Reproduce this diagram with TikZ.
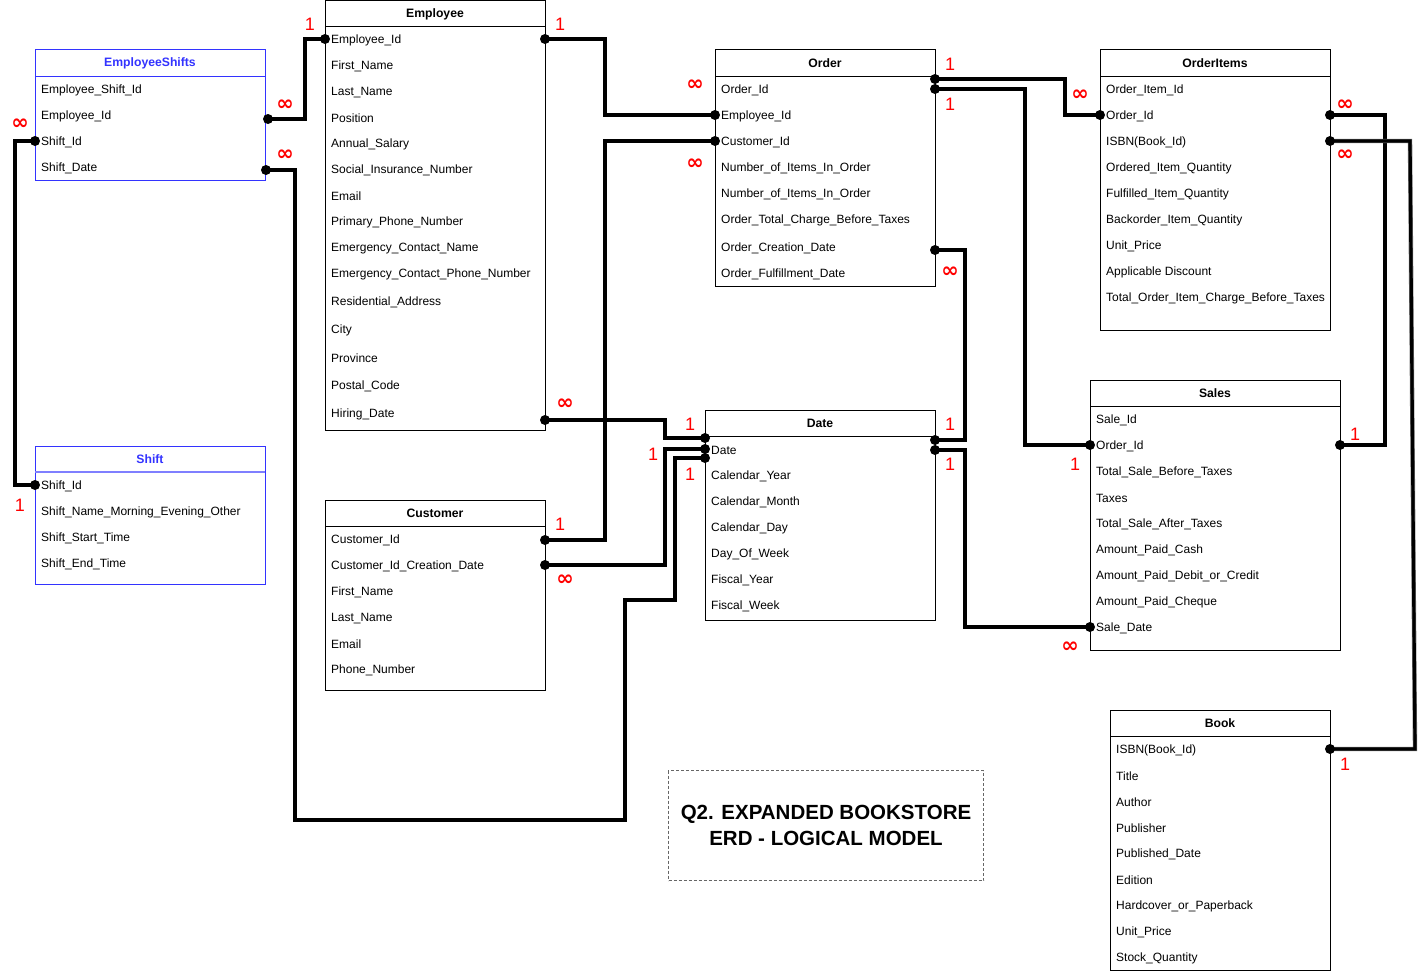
\documentclass[tikz,border=0pt]{standalone}
\usepackage{fontspec}
\setmainfont{Liberation Sans}
\newfontfamily\symfont{DejaVu Sans}
\definecolor{tblblue}{HTML}{3333FF}
\definecolor{tbllblue}{HTML}{7F7FFF}
\definecolor{cardred}{HTML}{FF0000}
\tikzset{
  tbl/.style={draw=black, line width=1pt, inner sep=0pt, outer sep=0pt, anchor=north west},
  btbl/.style={tbl, draw=tblblue},
  hdr/.style={font=\fontsize{12.2}{14}\selectfont\bfseries, inner sep=0pt},
  bhdr/.style={hdr, text=tblblue},
  rowtxt/.style={anchor=west, inner sep=0pt, yshift=-1.2pt, font=\fontsize{12}{14}\selectfont},
  conn/.style={line width=3.2pt, draw=black, line join=miter, preaction={draw=black!55, line width=4.4pt}},
  one/.style={text=cardred, inner sep=0pt, font=\fontsize{18}{19}\selectfont},
  many/.style={text=cardred, inner sep=0pt, font=\symfont\fontsize{21}{22}\selectfont\bfseries},
  titlebox/.style={draw=black!60, dash pattern=on 3pt off 2pt, line width=1pt, inner sep=0pt, anchor=north west},
}
\begin{document}
\begin{tikzpicture}[x=1pt,y=-1pt]
\useasboundingbox (0,0) rectangle (1426,974);
\fill[white] (0,0) rectangle (1426,974);

% ---------------- EmployeeShifts ----------------
\node[btbl, minimum width=230pt, minimum height=130pt] (es) at (35,50) {};
\draw[tblblue, line width=1pt] ([yshift=-26pt]es.north west) -- ([yshift=-26pt]es.north east);
\node[bhdr] (esT) at ([yshift=-13pt]es.north) {EmployeeShifts};
\foreach \yy/\t [count=\i] in {89/Employee\_Shift\_Id,115/Employee\_Id,141/Shift\_Id,167/Shift\_Date}
  \node[rowtxt] (es-\i) at (41,\yy) {\t};

% ---------------- Shift ----------------
\node[btbl, minimum width=230pt, minimum height=138pt] (sh) at (35,446) {};
\draw[tbllblue, line width=1.5pt] ([yshift=-26pt]sh.north west) -- ([yshift=-26pt]sh.north east);
\node[bhdr] (shT) at ([yshift=-13pt]sh.north) {Shift};
\foreach \yy/\t [count=\i] in {485/Shift\_Id,511/Shift\_Name\_Morning\_Evening\_Other,537/Shift\_Start\_Time,563/Shift\_End\_Time}
  \node[rowtxt] (sh-\i) at (41,\yy) {\t};

% ---------------- Employee ----------------
\node[tbl, minimum width=220pt, minimum height=429pt] (emp) at (325,1) {};
\draw[line width=1pt] ([yshift=-26pt]emp.north west) -- ([yshift=-26pt]emp.north east);
\node[hdr] (empT) at ([yshift=-13pt]emp.north) {Employee};
\foreach \yy/\t [count=\i] in {39/Employee\_Id,65/First\_Name,91/Last\_Name,117/Position,143/Annual\_Salary,169/Social\_Insurance\_Number,195/Email,221/Primary\_Phone\_Number,247/Emergency\_Contact\_Name,273/Emergency\_Contact\_Phone\_Number,301/Residential\_Address,329/City,357/Province,385/Postal\_Code,413/Hiring\_Date}
  \node[rowtxt] (emp-\i) at (331,\yy) {\t};

% ---------------- Customer ----------------
\node[tbl, minimum width=220pt, minimum height=190pt] (cus) at (325,500) {};
\draw[line width=1pt] ([yshift=-26pt]cus.north west) -- ([yshift=-26pt]cus.north east);
\node[hdr] (cusT) at ([yshift=-13pt]cus.north) {Customer};
\foreach \yy/\t [count=\i] in {539/Customer\_Id,565/Customer\_Id\_Creation\_Date,591/First\_Name,617/Last\_Name,643/Email,669/Phone\_Number}
  \node[rowtxt] (cus-\i) at (331,\yy) {\t};

% ---------------- Order ----------------
\node[tbl, minimum width=220pt, minimum height=236pt] (ord) at (715,50) {};
\draw[line width=1pt] ([yshift=-26pt]ord.north west) -- ([yshift=-26pt]ord.north east);
\node[hdr] (ordT) at ([yshift=-13pt]ord.north) {Order};
\foreach \yy/\t [count=\i] in {89/Order\_Id,115/Employee\_Id,141/Customer\_Id,167/Number\_of\_Items\_In\_Order,193/Number\_of\_Items\_In\_Order,219/Order\_Total\_Charge\_Before\_Taxes,247/Order\_Creation\_Date,273/Order\_Fulfillment\_Date}
  \node[rowtxt] (ord-\i) at (721,\yy) {\t};

% ---------------- OrderItems ----------------
\node[tbl, minimum width=230pt, minimum height=280pt] (oi) at (1100,50) {};
\draw[line width=1pt] ([yshift=-26pt]oi.north west) -- ([yshift=-26pt]oi.north east);
\node[hdr] (oiT) at ([yshift=-13pt]oi.north) {OrderItems};
\foreach \yy/\t [count=\i] in {89/Order\_Item\_Id,115/Order\_Id,141/ISBN(Book\_Id),167/Ordered\_Item\_Quantity,193/Fulfilled\_Item\_Quantity,219/Backorder\_Item\_Quantity,245/Unit\_Price,271/Applicable Discount,297/Total\_Order\_Item\_Charge\_Before\_Taxes}
  \node[rowtxt] (oi-\i) at (1106,\yy) {\t};

% ---------------- Date ----------------
\node[tbl, minimum width=230pt, minimum height=210pt] (dt) at (705,410) {};
\draw[line width=1pt] ([yshift=-26pt]dt.north west) -- ([yshift=-26pt]dt.north east);
\node[hdr] (dtT) at ([yshift=-13pt]dt.north) {Date};
\foreach \yy/\t [count=\i] in {449/Date,475/Calendar\_Year,501/Calendar\_Month,527/Calendar\_Day,553/Day\_Of\_Week,579/Fiscal\_Year,605/Fiscal\_Week}
  \node[rowtxt] (dt-\i) at (711,\yy) {\t};

% ---------------- Sales ----------------
\node[tbl, minimum width=250pt, minimum height=270pt] (sa) at (1090,380) {};
\draw[line width=1pt] ([yshift=-26pt]sa.north west) -- ([yshift=-26pt]sa.north east);
\node[hdr] (saT) at ([yshift=-13pt]sa.north) {Sales};
\foreach \yy/\t [count=\i] in {419/Sale\_Id,445/Order\_Id,471/Total\_Sale\_Before\_Taxes,497/Taxes,523/Total\_Sale\_After\_Taxes,549/Amount\_Paid\_Cash,575/Amount\_Paid\_Debit\_or\_Credit,601/Amount\_Paid\_Cheque,627/Sale\_Date}
  \node[rowtxt] (sa-\i) at (1096,\yy) {\t};

% ---------------- Book ----------------
\node[tbl, minimum width=220pt, minimum height=260pt] (bk) at (1110,710) {};
\draw[line width=1pt] ([yshift=-26pt]bk.north west) -- ([yshift=-26pt]bk.north east);
\node[hdr] (bkT) at ([yshift=-13pt]bk.north) {Book};
\foreach \yy/\t [count=\i] in {749/ISBN(Book\_Id),775/Title,801/Author,827/Publisher,853/Published\_Date,879/Edition,905/Hardcover\_or\_Paperback,931/Unit\_Price,957/Stock\_Quantity}
  \node[rowtxt] (bk-\i) at (1116,\yy) {\t};

% ---------------- Title box ----------------
\node[titlebox, minimum width=315pt, minimum height=110pt] (ttl) at (668,770) {};
\node[font=\fontsize{20.5}{26}\selectfont\bfseries, align=center, inner sep=0pt] (ttlT) at (ttl.center)
  {Q2. EXPANDED BOOKSTORE\\ERD - LOGICAL MODEL};

% ---------------- connector end points ----------------
\coordinate (empIdL) at (325,39);
\coordinate (empIdR) at (545,39);
\coordinate (esEmpR) at (268,119);
\coordinate (esDateR) at (266,170);
\coordinate (esShiftL) at (35,141);
\coordinate (shIdL) at (35,485);
\coordinate (ordEmpL) at (715,115);
\coordinate (ordCustL) at (715,141);
\coordinate (cusIdR) at (545,540);
\coordinate (cusCreR) at (545,565);
\coordinate (empHireR) at (545,420);
\coordinate (dtL1) at (705,438);
\coordinate (dtL2) at (705,449);
\coordinate (dtL3) at (705,458);
\coordinate (dtR1) at (935,440);
\coordinate (dtR2) at (935,450);
\coordinate (ordR1) at (935,79);
\coordinate (ordR2) at (935,89);
\coordinate (ordCreR) at (935,250);
\coordinate (oiOrdL) at (1100,115);
\coordinate (oiOrdR) at (1330,115);
\coordinate (oiIsbnR) at (1330,141);
\coordinate (saOrdL) at (1090,445);
\coordinate (saOrdR) at (1340,445);
\coordinate (saDateL) at (1090,627);
\coordinate (bkIsbnR) at (1330,749);

% ---------------- connectors ----------------
\draw[conn] (empIdL) -- (305,39) |- (esEmpR);
\draw[conn] (empIdR) -- (605,39) |- (ordEmpL);
\draw[conn] (ordCustL) -- (605,141) |- (cusIdR);
\draw[conn] (empHireR) -- (665,420) |- (dtL1);
\draw[conn] (cusCreR) -- (665,565) |- (dtL2);
\draw[conn] (esDateR) -- (295,170) -- (295,820) -- (625,820) -- (625,600) -- (675,600) |- (dtL3);
\draw[conn] (esShiftL) -- (15,141) |- (shIdL);
\draw[conn] (ordR1) -- (1065,79) |- (oiOrdL);
\draw[conn] (ordR2) -- (1025,89) |- (saOrdL);
\draw[conn] (ordCreR) -- (965,250) |- (dtR1);
\draw[conn] (dtR2) -- (965,450) |- (saDateL);
\draw[conn] (oiOrdR) -- (1385,115) |- (saOrdR);
\draw[conn] (oiIsbnR) -- (1410,141) -- (1415,749) -- (bkIsbnR);

% ---------------- dots ----------------
\foreach \p in {empIdL,empIdR,esEmpR,esDateR,esShiftL,shIdL,ordEmpL,ordCustL,cusIdR,cusCreR,empHireR,dtL1,dtL2,dtL3,dtR1,dtR2,ordR1,ordR2,ordCreR,oiOrdL,oiOrdR,oiIsbnR,saOrdL,saOrdR,saDateL,bkIsbnR}
  \fill[black] (\p) circle[radius=5pt];

% ---------------- cardinality labels ----------------
\node[one]  (c1)  at (310,24)   {1};
\node[many] (c2)  at (285,105)  {∞};
\node[one]  (c3)  at (560,24)   {1};
\node[many] (c4)  at (695,85)   {∞};
\node[many] (c5)  at (695,164)  {∞};
\node[one]  (c6)  at (560,524)  {1};
\node[many] (c7)  at (565,404)  {∞};
\node[one]  (c8)  at (690,424)  {1};
\node[one]  (c9)  at (653,454)  {1};
\node[many] (c10) at (565,580)  {∞};
\node[many] (c11) at (285,155)  {∞};
\node[one]  (c12) at (690,474)  {1};
\node[many] (c13) at (20,124)   {∞};
\node[one]  (c14) at (20,505)   {1};
\node[one]  (c15) at (950,64)   {1};
\node[many] (c16) at (1080,95)  {∞};
\node[one]  (c17) at (950,104)  {1};
\node[one]  (c18) at (1075,464) {1};
\node[many] (c19) at (950,272)  {∞};
\node[one]  (c20) at (950,424)  {1};
\node[one]  (c21) at (950,464)  {1};
\node[many] (c22) at (1070,647) {∞};
\node[many] (c23) at (1345,105) {∞};
\node[one]  (c24) at (1355,434) {1};
\node[many] (c25) at (1345,155) {∞};
\node[one]  (c26) at (1345,764) {1};
\end{tikzpicture}
\end{document}
